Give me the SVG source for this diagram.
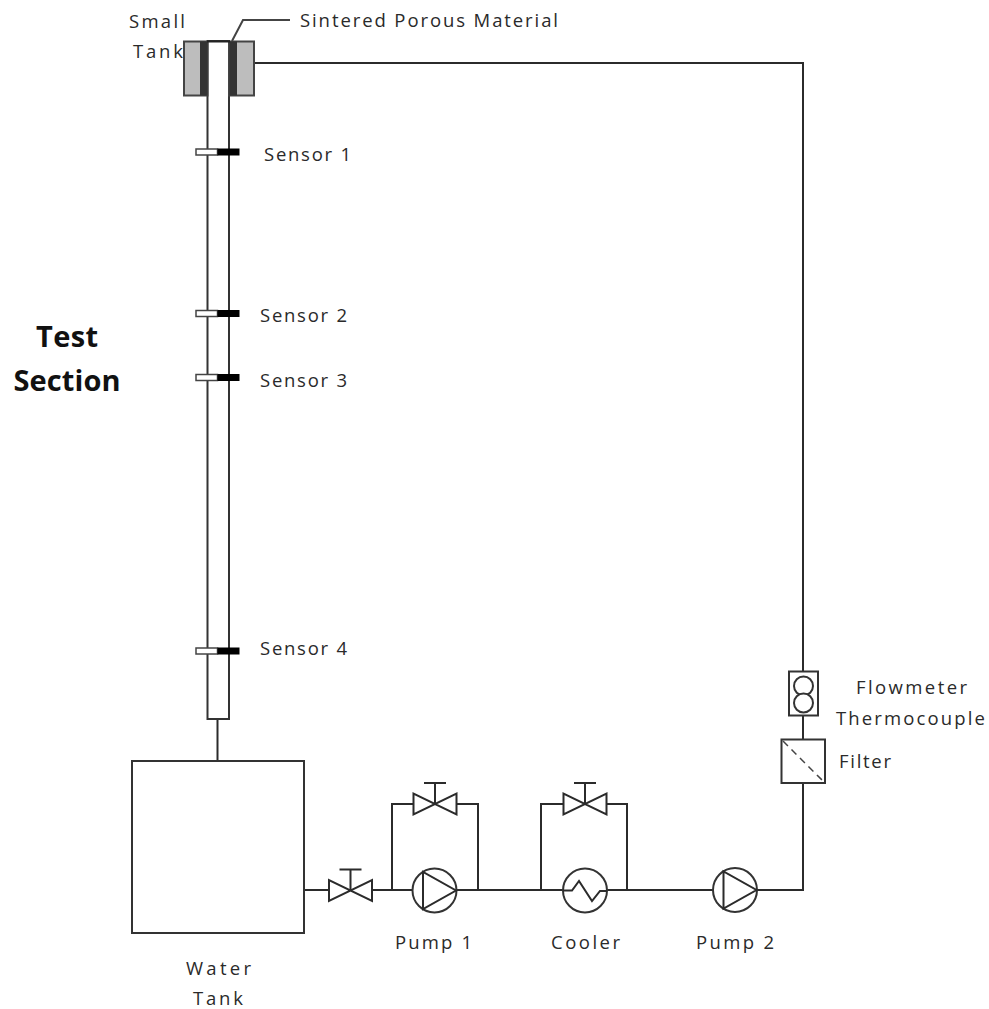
<svg xmlns="http://www.w3.org/2000/svg" width="989" height="1009" viewBox="0 0 989 1009">
<style>
.l{fill:none;stroke:#2b2b2b;stroke-width:2}
.s{fill:#fff;stroke:#333;stroke-width:2}
text{font-family:"Open Sans","Noto Sans","Liberation Sans",sans-serif;font-size:18.500px;fill:#2a2a2a}
.b{font-family:"Open Sans","Noto Sans","Liberation Sans",sans-serif;font-size:29px;font-weight:700;fill:#111}
</style>
<defs>
<g id="valve"><path class="l" d="M-21.500 -10.500V10.500L21.500 -10.500V10.500Z" style="fill:#fff"/><path class="l" d="M0 0V-21M-11 -21H11"/></g>
<g id="pump"><circle r="22" class="s"/><path class="l" d="M-11.500 -18.500V18.500L21.500 0Z"/></g>
<g id="sensor"><rect x="-21.500" y="-3" width="21.500" height="6" fill="#fff" stroke="#444" stroke-width="1.500"/><rect x="0" y="-3.500" width="22" height="7" fill="#000"/></g>
</defs>
<rect width="989" height="1009" fill="#fff"/>
<g id="connectors">
<path class="l" d="M254 63H803V671"/>
<path class="l" d="M803 715V739"/>
<path class="l" d="M803 783V890H757"/>
<path class="l" d="M713 890H607"/>
<path class="l" d="M563 890H457"/>
<path class="l" d="M412 890H372"/>
<path class="l" d="M329 890H304"/>
<path class="l" d="M217.500 719V761"/>
<path class="l" d="M392 890V804H413"/>
<path class="l" d="M457 804H478V890"/>
<path class="l" d="M541 890V804H563"/>
<path class="l" d="M607 804H627V890"/>
<path d="M232 41L243 20H290" fill="none" stroke="#444" stroke-width="2"/>
</g>
<g id="test-section"><text class="b" x="67" y="347" text-anchor="middle" textLength="62">Test</text><text class="b" x="67" y="391" text-anchor="middle" textLength="107">Section</text></g>
<g id="pipe"><rect x="207.500" y="41" width="21.500" height="678" class="s"/></g>
<g id="small-tank">
<rect x="184" y="41.500" width="23.500" height="54" fill="#bdbdbd" stroke="#444" stroke-width="2"/>
<rect x="229" y="41.500" width="25" height="54" fill="#bdbdbd" stroke="#444" stroke-width="2"/>
<rect x="200" y="41.500" width="7.500" height="54" fill="#333"/>
<rect x="229.500" y="41.500" width="7.500" height="54" fill="#333"/>
<path d="M207 41.500H230" stroke="#222" stroke-width="2"/>
<text x="129" y="28" textLength="56">Small</text><text x="133" y="58" textLength="50">Tank</text>
</g>
<g id="sintered-label"><text x="300" y="27" textLength="258">Sintered Porous Material</text></g>
<g id="sensor-1"><use href="#sensor" x="217.500" y="152"/><text x="264" y="161" textLength="87">Sensor 1</text></g>
<g id="sensor-2"><use href="#sensor" x="217.500" y="313.500"/><text x="260" y="322" textLength="87">Sensor 2</text></g>
<g id="sensor-3"><use href="#sensor" x="217.500" y="377.500"/><text x="260" y="387" textLength="87">Sensor 3</text></g>
<g id="sensor-4"><use href="#sensor" x="217.500" y="651"/><text x="260" y="655" textLength="87">Sensor 4</text></g>
<g id="water-tank"><rect x="132" y="761" width="172" height="172" class="s"/><text x="186" y="975" textLength="65">Water</text><text x="193" y="1005" textLength="50">Tank</text></g>
<g id="valve-main"><use href="#valve" x="350.500" y="890.500"/></g>
<g id="pump-1"><use href="#pump" x="434.500" y="890.500"/><text x="395" y="949" textLength="77">Pump 1</text></g>
<g id="bypass-valve-1"><use href="#valve" x="435" y="804"/></g>
<g id="cooler"><circle cx="585" cy="890.500" r="22" class="s"/><path class="l" d="M563 890.500H572L579 881L592 901L600 891H607"/><text x="551" y="949" textLength="69">Cooler</text></g>
<g id="bypass-valve-2"><use href="#valve" x="585" y="804"/></g>
<g id="pump-2"><use href="#pump" x="735" y="890"/><text x="696" y="949" textLength="78">Pump 2</text></g>
<g id="filter"><rect x="781.500" y="739.500" width="43.500" height="43.500" class="s"/><path d="M783 741L824 782" fill="none" stroke="#444" stroke-width="1.500" stroke-dasharray="7 5"/><text x="839" y="768" textLength="52">Filter</text></g>
<g id="flowmeter"><rect x="789" y="671.500" width="29" height="44" class="s"/><circle cx="803.500" cy="686" r="9.500" class="s"/><circle cx="803.500" cy="703" r="9.500" class="s"/><text x="856" y="694" textLength="111">Flowmeter</text><text x="836" y="725" textLength="149">Thermocouple</text></g>
</svg>
